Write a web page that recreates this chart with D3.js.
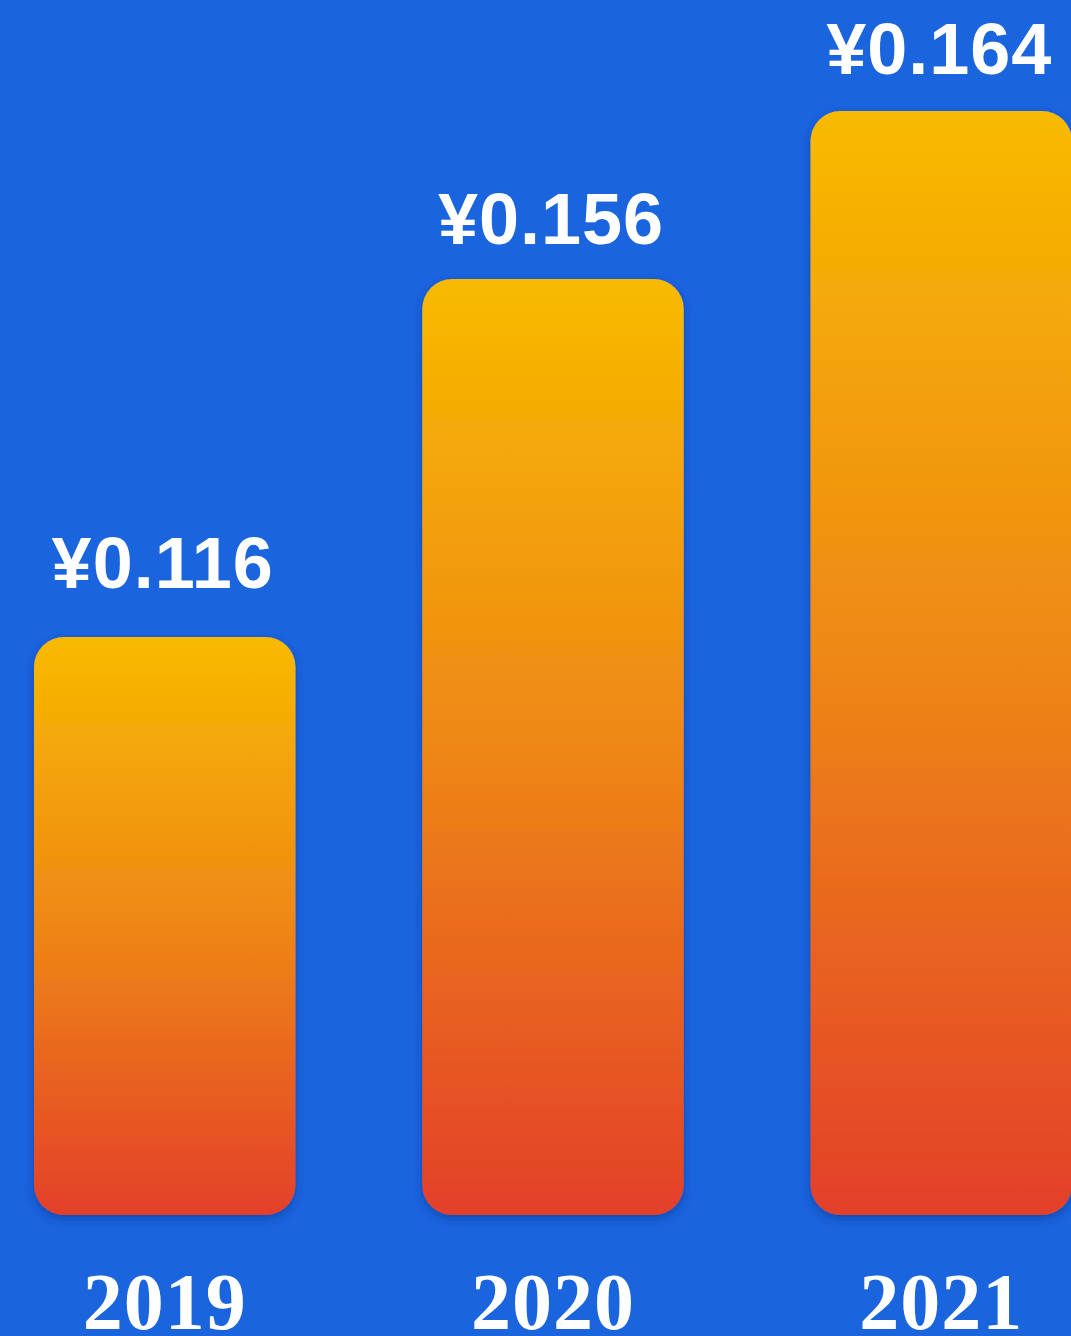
<!DOCTYPE html>
<html><head><meta charset="utf-8">
<script src="https://cdn.jsdelivr.net/npm/d3@7"></script>
<style>html,body{margin:0;padding:0;background:#1a64de;overflow:hidden}</style>
</head><body>
<svg id="c" width="1071" height="1336"></svg>
<script>
const categories = ["2019", "2020", "2021"];
const values = [0.116, 0.156, 0.164];
const valueLabels = ["¥0.116", "¥0.156", "¥0.164"];

const W = 1071, H = 1336;
const svg = d3.select("#c");
svg.append("rect").attr("width", W).attr("height", H).attr("fill", "#1a64de");

const defs = svg.append("defs");
const grad = defs.append("linearGradient").attr("id", "g").attr("x1", 0).attr("y1", 0).attr("x2", 0).attr("y2", 1);
grad.append("stop").attr("offset", "0%").attr("stop-color", "#f8ba00");
grad.append("stop").attr("offset", "50%").attr("stop-color", "#ee8716");
grad.append("stop").attr("offset", "100%").attr("stop-color", "#e3402a");
const f = defs.append("filter").attr("id", "sh").attr("x", "-20%").attr("y", "-10%").attr("width", "140%").attr("height", "130%");
f.append("feDropShadow").attr("dx", 0).attr("dy", 4).attr("stdDeviation", 5).attr("flood-color", "#0b2f7a").attr("flood-opacity", 0.45);

const x = d3.scaleBand().domain(categories).range([34, 1072]).paddingInner(0.3265).paddingOuter(0);

// piecewise scale (bars are not proportional from zero)
const y = d3.scaleLinear().domain([0, 0.116, 0.156, 0.164]).range([1215, 637, 279, 111]);
// label baselines as placed in the picture
const yLabel = d3.scaleLinear().domain([0.116, 0.156, 0.164]).range([588, 244, 74]);

const data = categories.map((c, i) => ({c, v: values[i], l: valueLabels[i]}));

svg.selectAll("rect.bar").data(data).join("rect")
  .attr("class", "bar")
  .attr("x", d => x(d.c))
  .attr("y", d => y(d.v))
  .attr("width", x.bandwidth())
  .attr("height", d => y(0) - y(d.v))
  .attr("rx", 30).attr("ry", 30)
  .attr("fill", "url(#g)")
  .attr("filter", "url(#sh)");

svg.selectAll("text.val").data(data).join("text")
  .attr("class", "val")
  .attr("x", d => x(d.c) + x.bandwidth() / 2 - 2)
  .attr("y", d => yLabel(d.v))
  .attr("text-anchor", "middle")
  .attr("fill", "#fff")
  .attr("font-family", "'Liberation Sans', Arial, sans-serif")
  .attr("font-weight", "bold")
  .attr("font-size", 72)
  .attr("letter-spacing", 1)
  .text(d => d.l);

svg.selectAll("text.cat").data(data).join("text")
  .attr("class", "cat")
  .attr("x", d => x(d.c) + x.bandwidth() / 2)
  .attr("y", 1329)
  .attr("text-anchor", "middle")
  .attr("fill", "#fff")
  .attr("font-family", "'Liberation Serif', 'Times New Roman', serif")
  .attr("font-weight", "bold")
  .attr("font-size", 80)
  .attr("letter-spacing", 1)
  .text(d => d.c);
</script>
</body></html>
